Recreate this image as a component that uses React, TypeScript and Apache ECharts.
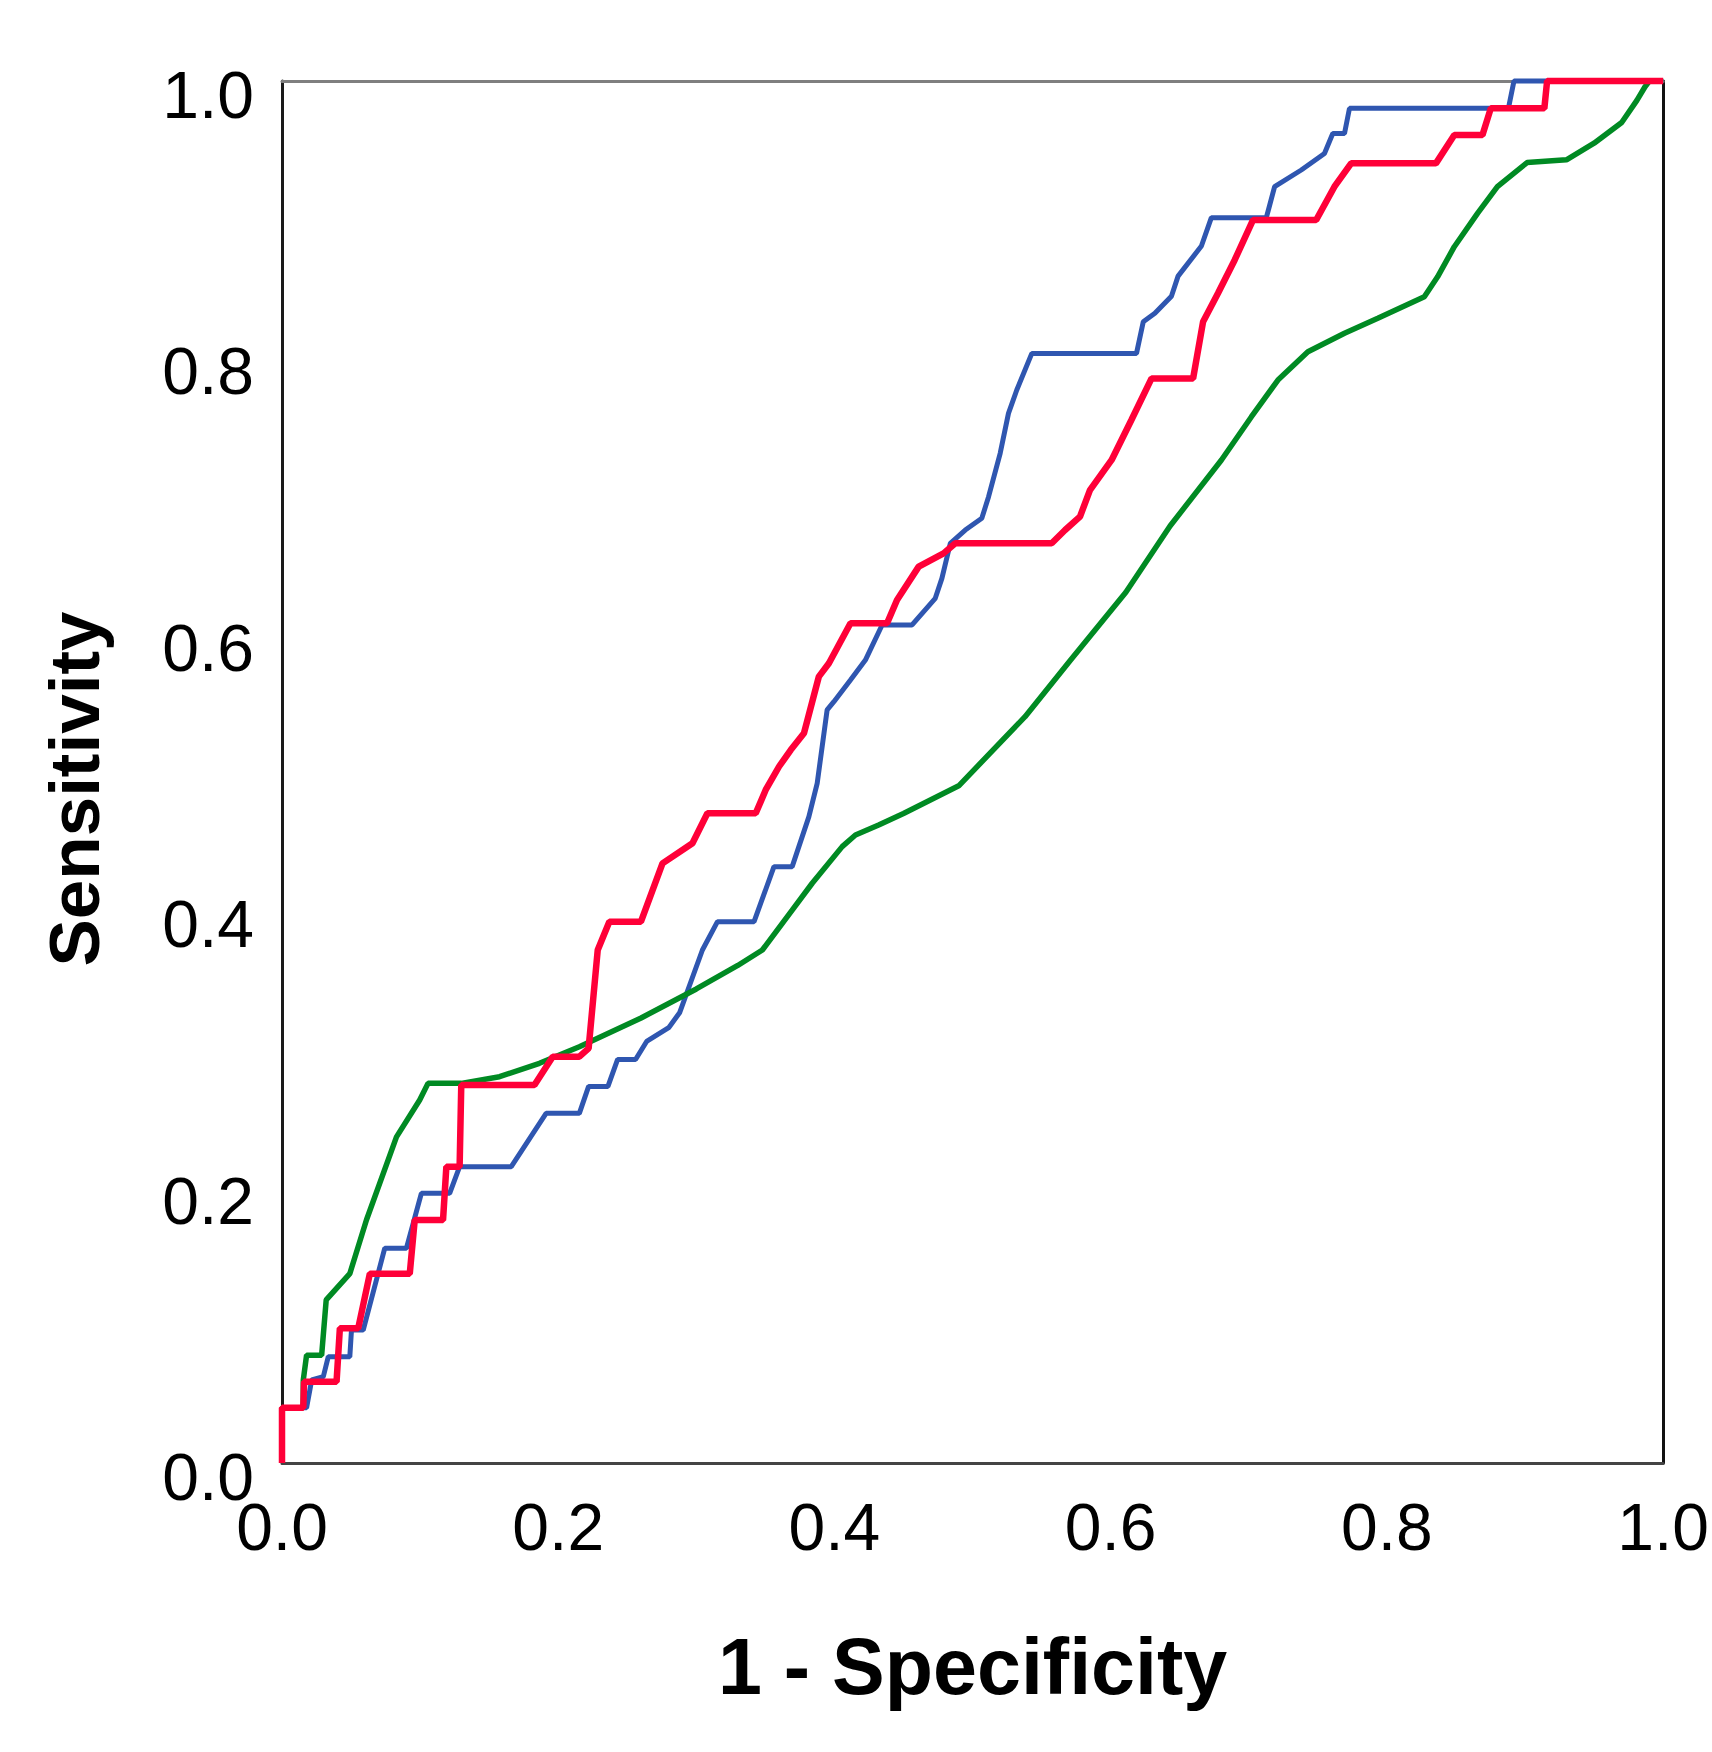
import React, { useEffect, useRef } from "react";
import * as echarts from "echarts";

// Tick labels
const xTickLabels = ["0.0", "0.2", "0.4", "0.6", "0.8", "1.0"];
const yTickLabels = ["0.0", "0.2", "0.4", "0.6", "0.8", "1.0"];

// ROC curve points: [1 - specificity, sensitivity]
const blueCurve: [number, number][] = [
  [0, 0], [0, 0.04], [0.0178, 0.04], [0.0215, 0.0601], [0.0299, 0.0624], [0.0335, 0.0769],
  [0.0491, 0.0769], [0.0503, 0.0962], [0.0588, 0.0962], [0.0744, 0.1554], [0.0901, 0.1554],
  [0.1009, 0.1951], [0.1214, 0.1951], [0.1286, 0.2144], [0.166, 0.2144], [0.1912, 0.253],
  [0.2153, 0.253], [0.222, 0.2725], [0.236, 0.2725], [0.243, 0.292], [0.256, 0.292],
  [0.264, 0.305], [0.28, 0.315], [0.288, 0.326], [0.3044, 0.3712], [0.3153, 0.3917],
  [0.3418, 0.3917], [0.3562, 0.4315], [0.3694, 0.4315], [0.3815, 0.4677], [0.3875, 0.4918],
  [0.3947, 0.5449], [0.3996, 0.5509], [0.4116, 0.5666], [0.4224, 0.581], [0.4345, 0.6064],
  [0.4562, 0.6064], [0.473, 0.6257], [0.4778, 0.6401], [0.4839, 0.6655], [0.4947, 0.6751],
  [0.5067, 0.6836], [0.5116, 0.6992], [0.52, 0.7306], [0.526, 0.7595], [0.532, 0.7764],
  [0.5429, 0.8029], [0.6187, 0.8029], [0.6236, 0.8258], [0.632, 0.8319], [0.644, 0.8443],
  [0.6488, 0.8588], [0.6657, 0.8806], [0.6729, 0.9011], [0.7127, 0.9011], [0.7187, 0.9235],
  [0.738, 0.9356], [0.7548, 0.9476], [0.7608, 0.962], [0.7693, 0.962], [0.7729, 0.9802],
  [0.888, 0.9802], [0.892, 1], [1, 1],
];

const redCurve: [number, number][] = [
  [0, 0], [0, 0.04], [0.0154, 0.04], [0.016, 0.0588], [0.0395, 0.0588], [0.0419, 0.0975],
  [0.0552, 0.0975], [0.0636, 0.137], [0.0925, 0.137], [0.0961, 0.1758], [0.1166, 0.1758],
  [0.119, 0.2144], [0.1286, 0.2144], [0.1298, 0.2735], [0.1828, 0.2735], [0.196, 0.294],
  [0.2153, 0.294], [0.222, 0.3], [0.2286, 0.3712], [0.237, 0.3917], [0.2599, 0.3917],
  [0.2755, 0.4339], [0.2972, 0.4484], [0.308, 0.4701], [0.343, 0.4701], [0.3502, 0.487],
  [0.3598, 0.5038], [0.3683, 0.5159], [0.3779, 0.528], [0.3887, 0.569], [0.396, 0.5787],
  [0.4116, 0.6076], [0.4381, 0.6076], [0.4453, 0.6245], [0.461, 0.6486], [0.479, 0.6582],
  [0.4875, 0.6655], [0.5573, 0.6655], [0.567, 0.6751], [0.5778, 0.6848], [0.585, 0.704],
  [0.6007, 0.7258], [0.615, 0.7547], [0.6296, 0.7848], [0.6597, 0.7848], [0.6669, 0.8258],
  [0.6777, 0.8464], [0.6898, 0.8705], [0.703, 0.8994], [0.7488, 0.8994], [0.762, 0.9235],
  [0.7741, 0.9404], [0.8355, 0.9404], [0.8488, 0.9609], [0.8692, 0.9609], [0.8752, 0.9802],
  [0.914, 0.9802], [0.916, 1], [1, 1],
];

const greenCurve: [number, number][] = [
  [0, 0], [0, 0.04], [0.0154, 0.04], [0.0154, 0.06], [0.0178, 0.078], [0.0287, 0.078],
  [0.032, 0.118], [0.0491, 0.137], [0.0612, 0.176], [0.0829, 0.236], [0.0997, 0.2627],
  [0.1057, 0.2747], [0.1298, 0.2747], [0.1575, 0.2795], [0.1864, 0.2892], [0.2153, 0.3012],
  [0.26, 0.322], [0.3, 0.343], [0.33, 0.36], [0.3478, 0.3712], [0.3694, 0.4], [0.3839, 0.4195],
  [0.4056, 0.446], [0.4152, 0.4544], [0.432, 0.4616], [0.45, 0.47], [0.49, 0.49],
  [0.538, 0.54], [0.571, 0.581], [0.611, 0.63], [0.643, 0.678], [0.6802, 0.7258],
  [0.7018, 0.7569], [0.7211, 0.7836], [0.7428, 0.8041], [0.7693, 0.8175], [0.7934, 0.8283],
  [0.8271, 0.8439], [0.8367, 0.8583], [0.8488, 0.8801], [0.8656, 0.9042], [0.88, 0.9235],
  [0.9015, 0.941], [0.93, 0.943], [0.95, 0.955], [0.97, 0.97], [0.981, 0.986],
  [0.987, 0.996], [0.99, 1], [1, 1],
];

const FONT = "'Liberation Sans', Arial, Helvetica, sans-serif";

export default function App() {
  const ref = useRef<HTMLDivElement>(null);

  useEffect(() => {
    document.body.style.margin = "0";
    if (!ref.current) return;
    const chart = echarts.init(ref.current, undefined, { renderer: "svg" });

    const hiddenAxisBits = {
      axisTick: { show: false },
      axisLabel: { show: false },
      splitLine: { show: false },
    };

    chart.setOption({
      animation: false,
      backgroundColor: "#ffffff",
      grid: { left: 282, top: 81, width: 1384, height: 1382 },
      xAxis: [
        {
          type: "value",
          position: "bottom",
          min: 0,
          max: 1,
          interval: 0.2,
          name: "1 - Specificity",
          nameLocation: "middle",
          nameGap: 164,
          nameTextStyle: {
            fontFamily: FONT,
            fontWeight: "bold",
            fontSize: 79,
            color: "#000",
          },
          axisLine: { show: true, lineStyle: { color: "#444444", width: 3 } },
          axisTick: { show: false },
          splitLine: { show: false },
          axisLabel: {
            margin: 31,
            fontFamily: FONT,
            fontSize: 66,
            color: "#000",
            showMinLabel: true,
            showMaxLabel: true,
            formatter: (v: number) => xTickLabels[Math.round(v * 5)] ?? "",
          },
        },
        {
          type: "value",
          position: "top",
          min: 0,
          max: 1,
          axisLine: { show: true, onZero: false, lineStyle: { color: "#7f7f7f", width: 3 } },
          ...hiddenAxisBits,
        },
      ],
      yAxis: [
        {
          type: "value",
          position: "left",
          min: 0,
          max: 1,
          interval: 0.2,
          name: "Sensitivity",
          nameLocation: "middle",
          nameRotate: 90,
          nameGap: 172,
          nameTextStyle: {
            fontFamily: FONT,
            fontWeight: "bold",
            fontSize: 71,
            color: "#000",
            padding: [0, 34, 0, 0],
          },
          axisLine: { show: true, lineStyle: { color: "#1a1a1a", width: 3 } },
          axisTick: { show: false },
          splitLine: { show: false },
          axisLabel: {
            margin: 28,
            fontFamily: FONT,
            fontSize: 66,
            color: "#000",
            verticalAlign: "top",
            lineHeight: 28,
            showMinLabel: true,
            showMaxLabel: true,
            formatter: (v: number) => yTickLabels[Math.round(v * 5)] ?? "",
          },
        },
        {
          type: "value",
          position: "right",
          min: 0,
          max: 1,
          axisLine: { show: true, onZero: false, lineStyle: { color: "#111111", width: 3 } },
          ...hiddenAxisBits,
        },
      ],
      series: [
        {
          name: "Blue",
          type: "line",
          data: blueCurve,
          showSymbol: false,
          clip: false,
          lineStyle: { color: "#2f56b0", width: 5 },
          z: 3,
        },
        {
          name: "Green",
          type: "line",
          data: greenCurve,
          showSymbol: false,
          clip: false,
          lineStyle: { color: "#008a23", width: 5.5 },
          z: 4,
        },
        {
          name: "Red",
          type: "line",
          data: redCurve,
          showSymbol: false,
          clip: false,
          lineStyle: { color: "#ff0038", width: 6.5 },
          z: 5,
        },
      ],
    });

    return () => chart.dispose();
  }, []);

  return <div ref={ref} style={{ width: 1712, height: 1752 }} />;
}
